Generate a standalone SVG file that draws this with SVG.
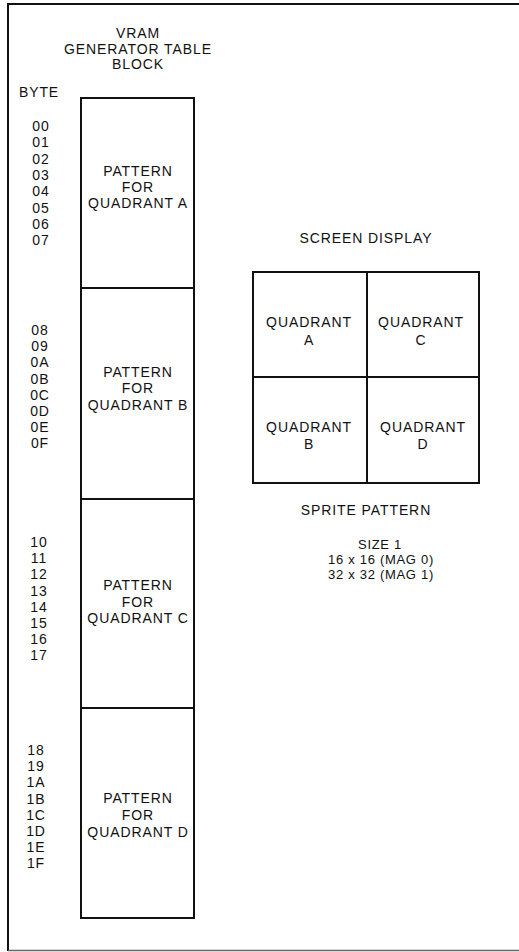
<svg xmlns="http://www.w3.org/2000/svg" width="519" height="952" viewBox="0 0 519 952">
<style>
text{font-family:"Liberation Sans",Arial,sans-serif;font-size:14px;letter-spacing:0.9px;fill:#111;text-anchor:middle}
.small{font-size:13px;letter-spacing:0.7px}
.box{fill:#fff;stroke:#111;stroke-width:2}
.frame{fill:none;stroke:#111;stroke-width:2}
</style>
<rect width="519" height="952" fill="#fff"/>
<g id="frame">
<line class="frame" x1="7" y1="4" x2="519" y2="4"/>
<line class="frame" x1="8" y1="4" x2="8" y2="951"/>
<line x1="8" y1="950.5" x2="519" y2="950.5" stroke="#666" stroke-width="1.5"/>
</g>
<g id="title">
<text x="138" y="38">VRAM</text>
<text x="138" y="54">GENERATOR TABLE</text>
<text x="138" y="69">BLOCK</text>
<text x="39" y="97">BYTE</text>
</g>
<g id="blockA">
<rect class="box" x="81" y="98" width="113" height="190"/>
<text x="138" y="176">PATTERN</text>
<text x="138" y="192">FOR</text>
<text x="138" y="208">QUADRANT A</text>
<text x="41" y="131">00</text><text x="41" y="147">01</text><text x="41" y="164">02</text><text x="41" y="180">03</text>
<text x="41" y="196">04</text><text x="41" y="213">05</text><text x="41" y="229">06</text><text x="41" y="245">07</text>
</g>
<g id="blockB">
<rect class="box" x="81" y="288" width="113" height="211"/>
<text x="138" y="377">PATTERN</text>
<text x="138" y="393">FOR</text>
<text x="138" y="410">QUADRANT B</text>
<text x="40" y="335">08</text><text x="40" y="351">09</text><text x="40" y="367">0A</text><text x="40" y="384">0B</text>
<text x="40" y="400">0C</text><text x="40" y="416">0D</text><text x="40" y="432">0E</text><text x="40" y="448">0F</text>
</g>
<g id="blockC">
<rect class="box" x="81" y="499" width="113" height="209"/>
<text x="138" y="590">PATTERN</text>
<text x="138" y="607">FOR</text>
<text x="138" y="623">QUADRANT C</text>
<text x="39" y="547">10</text><text x="39" y="563">11</text><text x="39" y="579">12</text><text x="39" y="596">13</text>
<text x="39" y="612">14</text><text x="39" y="628">15</text><text x="39" y="644">16</text><text x="39" y="660">17</text>
</g>
<g id="blockD">
<rect class="box" x="81" y="708" width="113" height="210"/>
<text x="138" y="803">PATTERN</text>
<text x="138" y="820">FOR</text>
<text x="138" y="837">QUADRANT D</text>
<text x="36" y="755">18</text><text x="36" y="771">19</text><text x="36" y="787">1A</text><text x="36" y="804">1B</text>
<text x="36" y="820">1C</text><text x="36" y="836">1D</text><text x="36" y="852">1E</text><text x="36" y="868">1F</text>
</g>
<g id="screen">
<text x="366" y="243">SCREEN DISPLAY</text>
<rect class="box" x="253" y="272" width="226" height="211"/>
<line class="frame" x1="367" y1="272" x2="367" y2="483"/>
<line class="frame" x1="253" y1="377" x2="479" y2="377"/>
<text x="309" y="327">QUADRANT</text>
<text x="309" y="345">A</text>
<text x="421" y="327">QUADRANT</text>
<text x="421" y="345">C</text>
<text x="309" y="432">QUADRANT</text>
<text x="309" y="449">B</text>
<text x="423" y="432">QUADRANT</text>
<text x="423" y="449">D</text>
<text x="366" y="515">SPRITE PATTERN</text>
<text class="small" x="380" y="549">SIZE 1</text>
<text class="small" x="381" y="564">16 x 16 (MAG 0)</text>
<text class="small" x="381" y="579">32 x 32 (MAG 1)</text>
</g>
</svg>
